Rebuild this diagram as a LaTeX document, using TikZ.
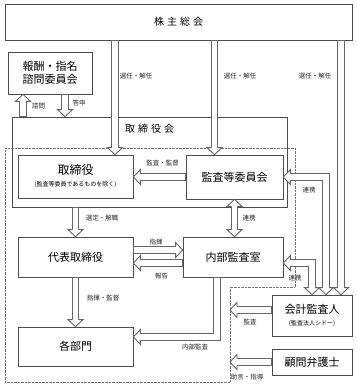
\documentclass[tikz,border=0pt]{standalone}
\usepackage{fontspec}
\setmainfont{Noto Sans CJK JP}
\usepackage{tikz}
\usetikzlibrary{arrows.meta,decorations.markings}
\newcommand{\hollowhead}{\filldraw[draw=black!60,fill=white,line width=.9pt] (-7,-3.1) -- (-7,-7.5) -- (0,0) -- (-7,7.5) -- (-7,3.1);}
\newcommand{\hollowtail}{\filldraw[draw=black!60,fill=white,line width=.9pt] (7,-3.1) -- (7,-7.5) -- (0,0) -- (7,7.5) -- (7,3.1);}

\begin{document}
\begin{tikzpicture}[x=1pt,y=-1pt,font=\fontsize{11}{13}\selectfont,
box/.style={draw=black!70,line width=.7pt,rectangle,inner sep=0pt,align=center},
lbl/.style={font=\fontsize{6.5}{7}\selectfont,inner sep=0pt,text=black!85},
hollow/.style={draw=none,
 postaction={draw=black!60,line width=7.2pt,shorten >=7pt},
 postaction={draw=white,line width=5.2pt,shorten >=7pt,shorten <=.4pt},
 postaction={decorate,decoration={markings,mark=at position 1 with {\hollowhead}}}},
hollow2/.style={draw=none,
 postaction={draw=black!60,line width=7.2pt,shorten >=7pt,shorten <=7pt},
 postaction={draw=white,line width=5.2pt,shorten >=7pt,shorten <=7pt},
 postaction={decorate,decoration={markings,mark=at position 0 with {\hollowtail},mark=at position 1 with {\hollowhead}}}}]
\useasboundingbox (0,0) rectangle (356,387);
\node[box,minimum width=347,minimum height=36,font=\fontsize{10}{12}\selectfont] (kabu) at (178.5,22) {株\hspace{3pt}主\hspace{3pt}総\hspace{3pt}会};
\node[box,minimum width=84,minimum height=42] (houshu) at (50,73) {報酬・指名\\諮問委員会};
\node[box,minimum width=275,minimum height=90,
 label={[anchor=north,yshift=-4pt,font=\fontsize{10}{12}\selectfont]north:{取\hspace{3pt}締\hspace{3pt}役\hspace{3pt}会}}] (torikai) at (149.5,162) {};
\draw[densely dotted,black!55] (5,148) -- (295,148) -- (295,287) -- (230,287) -- (230,382) -- (5,382) -- cycle;
\node[box,minimum width=115,minimum height=43] (tori) at (75.5,176.5) {{\fontsize{12}{13}\selectfont 取締役}\\[-1pt]{\fontsize{6}{7}\selectfont (監査等委員であるものを除く)}};
\node[box,minimum width=97,minimum height=44] (kansa) at (234.5,177) {監査等委員会};
\node[box,minimum width=115,minimum height=40] (daihyo) at (75.5,257) {代表取締役};
\node[box,minimum width=100,minimum height=40] (naibu) at (233,257) {内部監査室};
\node[box,minimum width=115,minimum height=39] (bumon) at (75.5,346.5) {各部門};
\node[box,minimum width=80,minimum height=41] (kaikei) at (312,315.5) {会計監査人\\[-1pt]{\fontsize{6}{7}\selectfont (監査法人シドー)}};
\node[box,minimum width=80,minimum height=26] (komon) at (312,362) {顧問弁護士};
\coordinate (kansaend) at (230,310);
\coordinate (komonend) at (230,362);
\draw[hollow] ([xshift=39.5pt]tori.north |- kabu.south) -- ([xshift=39.5pt]tori.north);
\draw[hollow] ([xshift=-20pt]kansa.north |- kabu.south) -- ([xshift=-20pt]kansa.north);
\draw[hollow] ([xshift=29pt]kaikei.north |- kabu.south) -- ([xshift=29pt]kaikei.north);
\draw[hollow] ([xshift=-27pt]houshu.south |- torikai.north) -- ([xshift=-27pt]houshu.south);
\draw[hollow] ([xshift=15pt]houshu.south) -- ([xshift=15pt]houshu.south |- torikai.north);
\draw[hollow] (kansa.west) -- (kansa.west -| tori.east);
\draw[hollow] (daihyo.north |- torikai.south) -- (daihyo.north);
\draw[hollow2] (kansa.south) -- (kansa.south |- naibu.north);
\draw[hollow] ([yshift=7pt]daihyo.east) -- ([yshift=7pt]daihyo.east -| naibu.west);
\draw[hollow] ([yshift=-6pt]naibu.west) -- ([yshift=-6pt]naibu.west -| daihyo.east);
\draw[hollow] (daihyo.south) -- (bumon.north);
\draw[hollow] ([xshift=-16pt]naibu.south) |- ([yshift=9.5pt]bumon.east);
\draw[hollow2] ([xshift=14pt]kaikei.north) |- (kansa.east);
\draw[hollow2] (kaikei.north) |- ([yshift=-6pt]naibu.east);
\draw[hollow] (kansaend -| kaikei.west) -- (kansaend);
\draw[hollow] (komon.west) -- (komonend);
\node[lbl] (l1) at (136,76) {選任・解任};
\node[lbl] (l2) at (240,76) {選任・解任};
\node[lbl] (l3) at (315,76) {選任・解任};
\node[lbl] (l4) at (38.5,106) {諮問};
\node[lbl] (l5) at (79,103) {答申};
\node[lbl] (l6) at (162.5,163) {監査・監督};
\node[lbl] (l7) at (102,218) {選定・解職};
\node[lbl] (l8) at (249,218) {連携};
\node[lbl] (l9) at (156,242) {指揮};
\node[lbl] (l10) at (161.5,276) {報告};
\node[lbl] (l11) at (103,298) {指揮・監督};
\node[lbl] (l12) at (195,347) {内部監査};
\node[lbl] (l13) at (309,190) {連携};
\node[lbl] (l14) at (295,278) {連携};
\node[lbl] (l15) at (250,322) {監査};
\node[lbl] (l16) at (247,377) {助言・指導};
\end{tikzpicture}
\end{document}
